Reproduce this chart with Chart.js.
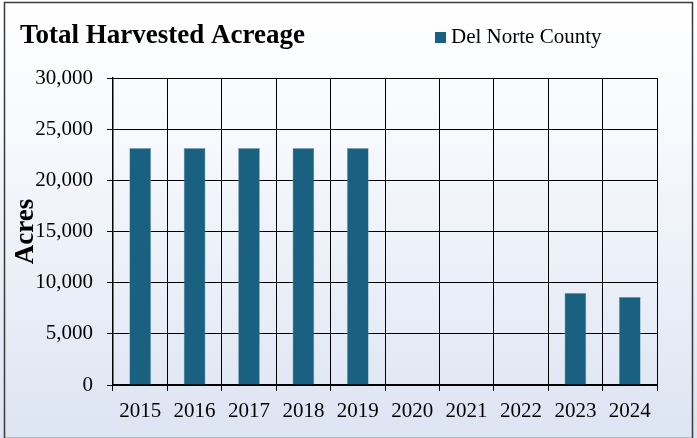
<!DOCTYPE html>
<html>
<head>
<meta charset="utf-8">
<script src="https://cdn.jsdelivr.net/npm/chart.js@4/dist/chart.umd.min.js"></script>
<style>
  body { margin: 0; background: #fff; }
  #wrap { width: 697px; height: 438px; }
</style>
</head>
<body>
<div id="wrap"><canvas id="chart" width="697" height="438"></canvas></div>
<script>
// data
var years = ['2015', '2016', '2017', '2018', '2019', '2020', '2021', '2022', '2023', '2024'];
var acres = [23150, 23150, 23150, 23150, 23150, 0, 0, 0, 9000, 8600];
var seriesName = 'Del Norte County';
var chartTitle = 'Total Harvested Acreage';
var yTitle = 'Acres';
var yMax = 30000;
var yStep = 5000;

var barColor = '#1a6080';
var serif = "'Liberation Serif', 'Times New Roman', serif";

// background, frame, title and legend row
var frame = {
    id: 'frame',
    beforeDraw: function(chart) {
        var ctx = chart.ctx;
        var g = ctx.createLinearGradient(0, 0, 0, 438);
        g.addColorStop(0, '#ffffff');
        g.addColorStop(0.3, '#f7f9fd');
        g.addColorStop(1, '#dde4f2');
        ctx.save();
        ctx.fillStyle = g;
        ctx.fillRect(0, 0, 697, 438);
        ctx.strokeStyle = '#3a3a3a';
        ctx.lineWidth = 1.5;
        ctx.strokeRect(4.5, 2.5, 688, 436);
        ctx.restore();
    },
    afterDraw: function(chart) {
        var ctx = chart.ctx;
        var ds = chart.data.datasets[0];
        ctx.save();
        ctx.fillStyle = '#000';
        ctx.textBaseline = 'alphabetic';
        ctx.font = 'bold 27px ' + serif;
        ctx.fillText(chartTitle, 20, 43);
        ctx.fillStyle = ds.backgroundColor;
        ctx.fillRect(435, 32, 11, 11);
        ctx.fillStyle = '#000';
        ctx.font = '21px ' + serif;
        ctx.fillText(ds.label, 451, 43);
        ctx.restore();
    }
};

new Chart(document.getElementById('chart'), {
    type: 'bar',
    data: {
        labels: years,
        datasets: [{
            label: seriesName,
            data: acres,
            backgroundColor: barColor,
            borderColor: '#7ea6b8',
            borderWidth: 0.6,
            categoryPercentage: 1,
            barPercentage: 0.4
        }]
    },
    options: {
        responsive: false,
        animation: false,
        layout: { padding: { left: 0, top: 78, right: 40, bottom: 0 } },
        plugins: {
            legend: { display: false },
            title: { display: false },
            tooltip: { enabled: false }
        },
        scales: {
            x: {
                grid: { color: '#000', lineWidth: 1, tickLength: 6, offset: true },
                border: { color: '#000', width: 2 },
                ticks: { color: '#000', font: { family: serif, size: 21 }, padding: 8, maxRotation: 0 },
                afterFit: function(s) { s.height = 53; }
            },
            y: {
                min: 0,
                max: yMax,
                grid: { color: '#000', lineWidth: 1, tickLength: 6 },
                border: { color: '#000', width: 1.5 },
                ticks: {
                    stepSize: yStep,
                    color: '#000',
                    font: { family: serif, size: 21 },
                    padding: 14,
                    callback: function(v) { return v.toLocaleString('en-US'); }
                },
                title: {
                    display: true,
                    text: yTitle,
                    color: '#000',
                    font: { family: serif, size: 27, weight: 'bold' },
                    padding: { top: 10, bottom: 0 }
                },
                afterFit: function(s) { s.width = 113; }
            }
        }
    },
    plugins: [frame]
});
</script>
</body>
</html>
